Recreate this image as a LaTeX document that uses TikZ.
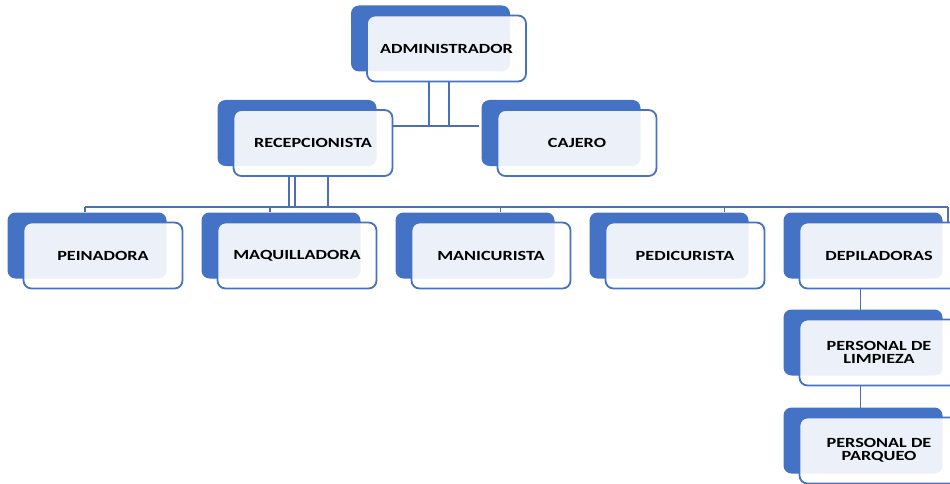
\documentclass[tikz,border=0pt]{standalone}
\usepackage{fontspec}
\newfontfamily\cardfont[FakeStretch=1.3]{Carlito}
\usetikzlibrary{positioning, shadows, backgrounds}
\definecolor{smartblue}{RGB}{68,114,196}
\definecolor{lineblue}{RGB}{74,112,184}

\begin{document}
\begin{tikzpicture}[
        x=1pt, y=-1pt,
        node distance=35pt,
        card/.style={rectangle, draw=smartblue, line width=1.8pt, fill=white, fill opacity=0.9, text opacity=1,
            rounded corners=8pt, minimum width=159pt, minimum height=66pt, outer sep=0pt, align=center,
            font=\cardfont\bfseries\fontsize{14}{13}\selectfont,
            copy shadow={shadow xshift=-16pt, shadow yshift=10pt, fill=smartblue, draw=none, fill opacity=1}},
        link/.style={draw=lineblue, line width=1.8pt}
    ]
        \useasboundingbox (0,0) rectangle (950,484);

        \node[card] (admin) at (446.5,48.5) {ADMINISTRADOR};
        \node[card] (recep) at (313,143) {RECEPCIONISTA};
        \node[card, right=105pt of recep] (cajero) {CAJERO};

        \node[card] (peina) at (103,255.5) {PEINADORA};
        \node[card, right=of peina] (maqui) {MAQUILLADORA};
        \node[card, right=of maqui] (mani) {MANICURISTA};
        \node[card, right=of mani] (pedi) {PEDICURISTA};
        \node[card, right=of pedi] (depil) {DEPILADORAS};
        \node[card, below=31pt of depil] (limp) {PERSONAL DE\\LIMPIEZA};
        \node[card, below=32pt of limp] (parq) {PERSONAL DE\\PARQUEO};

        \coordinate (adminbus) at (0,126);
        \coordinate (rowbus) at (0,207);

        \begin{scope}[on background layer]
            \fill[white] (0,0) rectangle (950,484);
            % administrador
            \draw[link] ([xshift=-17.5pt]admin.south) -- ([xshift=-17.5pt]admin.south |- adminbus);
            \draw[link] ([xshift=2.5pt]admin.south) -- ([xshift=2.5pt]admin.south |- adminbus);
            \draw[link] (recep.east |- adminbus) -- ([xshift=-19pt]cajero.west |- adminbus);
            % recepcionista
            \draw[link] ([xshift=-24pt]recep.south) -- ([xshift=-24pt]recep.south |- rowbus);
            \draw[link] ([xshift=-18pt]recep.south) -- ([xshift=-18pt]recep.south |- rowbus);
            \draw[link] ([xshift=15pt]recep.south) -- ([xshift=15pt]recep.south |- rowbus);
            \draw[link] ([xshift=-18pt]peina.north |- rowbus) -- ([xshift=69pt]depil.north |- rowbus);
            \draw[link] ([xshift=-18pt]peina.north |- rowbus) -- ++(0,5);
            \draw[link] ([xshift=-27pt]maqui.north |- rowbus) -- ++(0,5);
            \draw[link] ([xshift=9.5pt]mani.north |- rowbus) -- ++(0,5);
            \draw[link] ([xshift=39.5pt]pedi.north |- rowbus) -- ++(0,5);
            \draw[link] ([xshift=69pt]depil.north |- rowbus) -- ([xshift=69pt]depil.north);
            % depiladoras
            \draw[link] ([xshift=-18.5pt]depil.south) -- ([xshift=-18.5pt]limp.north);
            \draw[link] ([xshift=-18.5pt]limp.south) -- ([xshift=-18.5pt]parq.north);
        \end{scope}
    \end{tikzpicture}
\end{document}
